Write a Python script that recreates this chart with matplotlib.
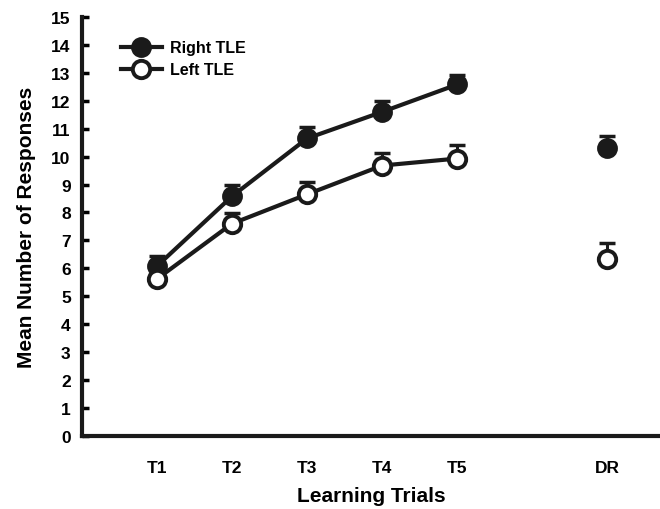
import numpy as np
import matplotlib.pyplot as plt

plt.rcParams['font.family'] = ['Liberation Sans', 'DejaVu Sans']
plt.rcParams['font.weight'] = 'bold'

# Data
trials = ['T1', 'T2', 'T3', 'T4', 'T5', 'DR']
trial_x = [1, 2, 3, 4, 5, 7]
right_tle = [6.08, 8.58, 10.65, 11.6, 12.58, 10.3]
right_err = [0.38, 0.4, 0.4, 0.4, 0.35, 0.45]
left_tle = [5.62, 7.6, 8.65, 9.68, 9.93, 6.32]
left_err = [0.35, 0.38, 0.45, 0.45, 0.5, 0.6]

fig = plt.figure(figsize=(6.6, 5.1), dpi=100)
ax = fig.add_axes([0.124, 0.143, 0.876, 0.822])

col = '#1a1a1a'
lw = 3.0
ms = 12.5

# upward-only error bars, behind the markers
for y, e in [(right_tle, right_err), (left_tle, left_err)]:
    ax.errorbar(trial_x, y, yerr=[np.zeros(len(e)), e], fmt='none', ecolor=col,
                elinewidth=2.2, capsize=5.5, capthick=2.5, zorder=2, clip_on=False)

# lines only across learning trials, DR stands alone
ax.plot(trial_x[:5], right_tle[:5], '-', color=col, lw=lw, zorder=3)
ax.plot(trial_x[:5], left_tle[:5], '-', color=col, lw=lw, zorder=3)
ax.plot(trial_x, right_tle, 'o', color=col, mfc=col, mec=col, ms=ms, mew=2.5,
        zorder=4, clip_on=False)
ax.plot(trial_x, left_tle, 'o', color=col, mfc='white', mec=col, ms=ms, mew=2.8,
        zorder=4, clip_on=False)

# legend handles
h1, = ax.plot([], [], '-o', color=col, mfc=col, mec=col, ms=ms, lw=lw, mew=2.5)
h2, = ax.plot([], [], '-o', color=col, mfc='white', mec=col, ms=ms, lw=lw, mew=2.8)
ax.legend([h1, h2], ['Right TLE', 'Left TLE'], loc='upper left',
          bbox_to_anchor=(0.045, 0.975), frameon=False, fontsize=11.5,
          handlelength=2.6, handletextpad=0.5, labelspacing=0.45, borderpad=0.3)

ax.set_xlim(0.0, 7.7)
ax.set_ylim(0, 15)
ax.set_yticks(range(0, 16))
ax.set_xticks(trial_x)
ax.set_xticklabels(trials)
ax.tick_params(axis='y', direction='in', length=5, width=2.5, labelsize=12.5, pad=8)
ax.tick_params(axis='x', length=0, labelsize=12.5, pad=17)
for lab in ax.get_xticklabels() + ax.get_yticklabels():
    lab.set_fontweight('bold')

ax.spines['top'].set_visible(False)
ax.spines['right'].set_visible(False)
ax.spines['left'].set_linewidth(3)
ax.spines['bottom'].set_linewidth(3)
ax.spines['left'].set_color(col)
ax.spines['bottom'].set_color(col)

ax.set_ylabel('Mean Number of Responses', fontsize=15, fontweight='bold', labelpad=11)
ax.set_xlabel('Learning Trials', fontsize=15, fontweight='bold', labelpad=8)

fig.savefig('out.png', dpi=100)
